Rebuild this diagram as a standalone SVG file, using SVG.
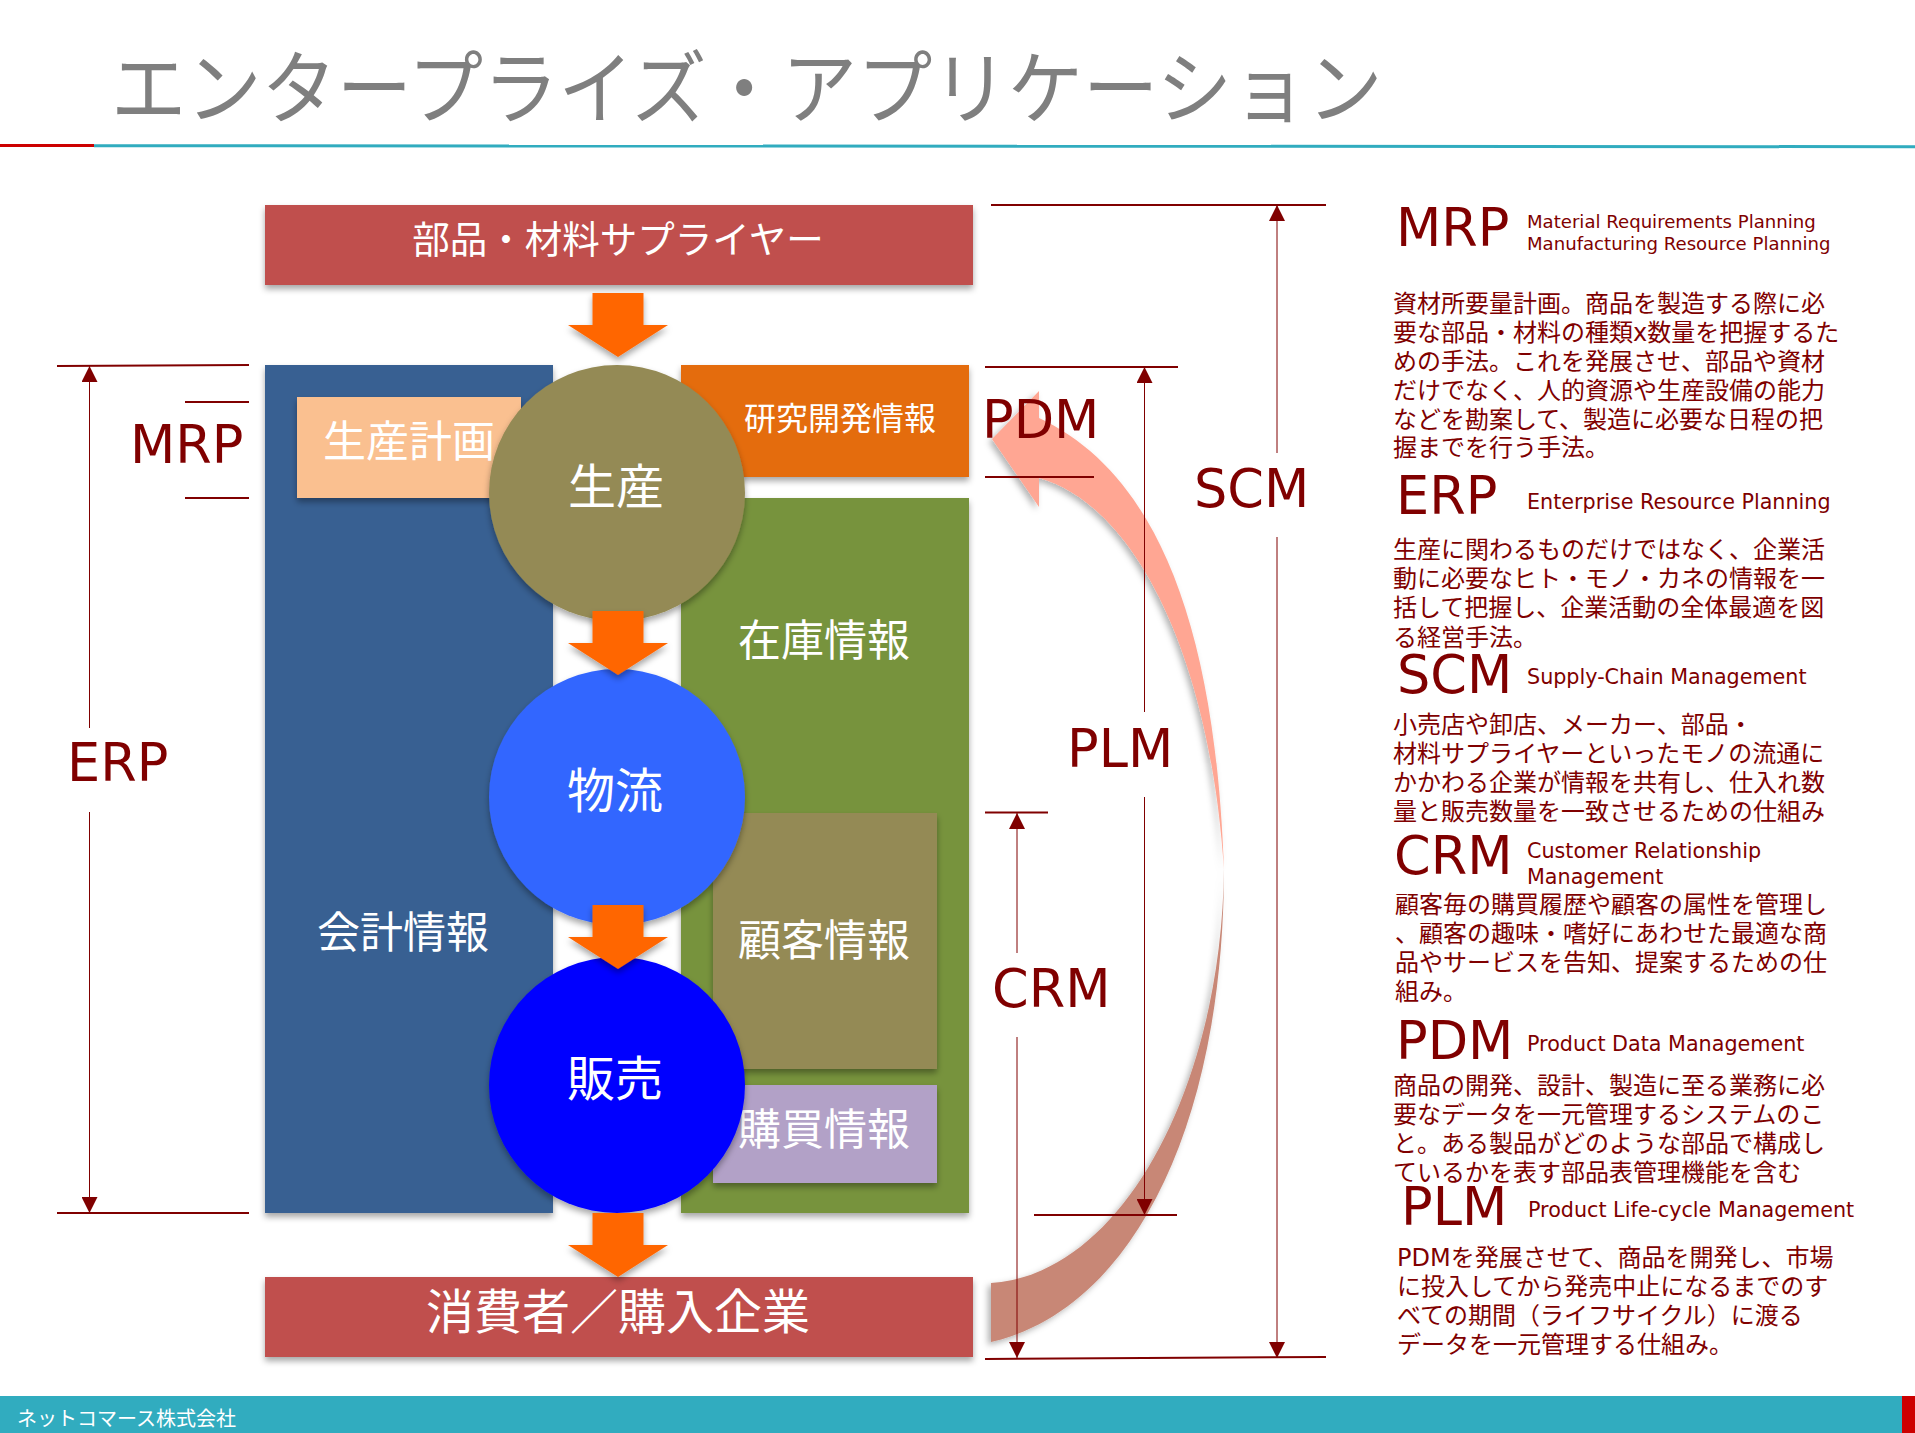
<svg xmlns="http://www.w3.org/2000/svg" width="1915" height="1433" viewBox="0 0 1915 1433">
<defs>
<filter id="sh" x="-10%" y="-10%" width="120%" height="125%"><feDropShadow dx="0" dy="4" stdDeviation="3" flood-color="#000" flood-opacity="0.35"/></filter>
<filter id="shb" x="-10%" y="-10%" width="120%" height="120%"><feDropShadow dx="-3" dy="3" stdDeviation="3" flood-color="#000" flood-opacity="0.3"/></filter>
<marker id="ah" viewBox="0 0 16 16" refX="16" refY="8" markerWidth="16" markerHeight="16" markerUnits="userSpaceOnUse" orient="auto"><path d="M0,0 L16,8 L0,16 Z" fill="#800000"/></marker>
<path id="down" d="M-25.5,0 H25.5 V32 H50 L0,64 L-50,32 H-25.5 Z"/>
</defs>
<style>
text{font-family:"DejaVu Sans","Noto Sans CJK JP",sans-serif}
.w{fill:#fff;text-anchor:middle}
.h{fill:#800000;font-size:52.5px}
.s{fill:#800000;font-size:20.7px}
.s1{fill:#800000;font-size:18.1px}
.b{fill:#800000;font-size:24px}
.dim{stroke:#800000;stroke-width:1;fill:none}
.bar{stroke:#800000;stroke-width:2;fill:none}
.ar{fill:#FF6600}
</style>
<rect width="1915" height="1433" fill="#fff"/>

<g id="header">
<text transform="translate(111,117) scale(1,1.06)" font-size="75.3" fill="#7F7F7F">エンタープライズ・アプリケーション</text>
<path d="M94,145.7 L1915,146.7" stroke="#31ACBF" stroke-width="3" fill="none"/>
<rect x="0" y="144" width="94" height="3" fill="#CC0000"/>
</g>

<g id="footer">
<rect x="0" y="1396" width="1915" height="37" fill="#31ACBF"/>
<rect x="1902" y="1396" width="13" height="37" fill="#CC0000"/>
<text x="17" y="1426" font-size="20" fill="#fff">ネットコマース株式会社</text>
</g>

<g id="supplier"><rect x="265" y="205" width="708" height="80" fill="#C0504D" filter="url(#sh)"/><text class="w" x="618" y="253" font-size="37.5">部品・材料サプライヤー</text></g>
<g id="accounting"><rect x="265" y="365" width="288" height="848" fill="#376092" filter="url(#sh)"/><text class="w" x="403" y="948" font-size="43">会計情報</text></g>
<g id="plan"><rect x="297" y="397" width="224" height="101" fill="#FAC090" filter="url(#sh)"/><text class="w" x="409" y="457" font-size="43">生産計画</text></g>
<g id="rd"><rect x="681" y="365" width="288" height="112" fill="#E46C0A" filter="url(#sh)"/><text class="w" x="840" y="430" font-size="32">研究開発情報</text></g>
<g id="inventory"><rect x="681" y="498" width="288" height="715" fill="#77933C" filter="url(#sh)"/><text class="w" x="824" y="656" font-size="43">在庫情報</text></g>
<g id="customer"><rect x="713" y="813" width="224" height="256" fill="#948A54" filter="url(#sh)"/><text class="w" x="824" y="956" font-size="43">顧客情報</text></g>
<g id="purchase"><rect x="713" y="1085" width="224" height="98" fill="#B2A1C7" filter="url(#sh)"/><text class="w" x="824" y="1145" font-size="43">購買情報</text></g>
<g id="consumer"><rect x="265" y="1277" width="708" height="80" fill="#C0504D" filter="url(#sh)"/><text class="w" x="618" y="1329" font-size="48">消費者／購入企業</text></g>

<g id="production"><circle cx="617" cy="493" r="128" fill="#948A54" filter="url(#sh)"/><text class="w" x="616" y="504" font-size="48">生産</text></g>
<g id="logistics"><circle cx="617" cy="797" r="128" fill="#3366FF" filter="url(#sh)"/><text class="w" x="615" y="808" font-size="48">物流</text></g>
<g id="sales"><circle cx="617" cy="1085" r="128" fill="#0000FF" filter="url(#sh)"/><text class="w" x="615" y="1096" font-size="48">販売</text></g>

<g id="flow-arrows">
<use href="#down" class="ar" transform="translate(618,293)" filter="url(#sh)"/>
<use href="#down" class="ar" transform="translate(618,611)" filter="url(#sh)"/>
<use href="#down" class="ar" transform="translate(618,905)" filter="url(#sh)"/>
<use href="#down" class="ar" transform="translate(618,1213)" filter="url(#sh)"/>
</g>

<g id="curved-arrow" filter="url(#shb)">
<path fill="#C88776" d="M1224,867 C1224,1130 1130,1310 991,1342 L991,1283 C1120,1275 1222,1090 1224,867 Z"/>
<path fill="#FFA693" d="M992,439 L1039,391 L1039,418 C1150,470 1215,610 1224,870 C1210,655 1135,505 1039,478 L1039,507 Z"/>
</g>

<g id="connectors">
<path class="bar" d="M57,366 L249,365 M57,1213 H249 M185,402 H249 M185,498 H249"/>
<path class="bar" d="M991,205 H1326 M985,367 H1178 M985,477 H1094 M1034,1215 H1177 M985,812.5 H1048 M985,1359 L1326,1357"/>
<line class="dim" x1="89.5" y1="728" x2="89.5" y2="366" marker-end="url(#ah)"/>
<line class="dim" x1="89.5" y1="812" x2="89.5" y2="1213" marker-end="url(#ah)"/>
<line class="dim" x1="1277" y1="453" x2="1277" y2="205" marker-end="url(#ah)"/>
<line class="dim" x1="1277" y1="537" x2="1277" y2="1358" marker-end="url(#ah)"/>
<line class="dim" x1="1144.5" y1="712" x2="1144.5" y2="367" marker-end="url(#ah)"/>
<line class="dim" x1="1144.5" y1="797" x2="1144.5" y2="1215" marker-end="url(#ah)"/>
<line class="dim" x1="1017" y1="953" x2="1017" y2="813" marker-end="url(#ah)"/>
<line class="dim" x1="1017" y1="1037" x2="1017" y2="1358" marker-end="url(#ah)"/>
</g>

<g id="dim-labels">
<text class="h" x="130" y="463">MRP</text>
<text class="h" x="67" y="781">ERP</text>
<text class="h" x="982" y="438">PDM</text>
<text class="h" x="1067" y="767">PLM</text>
<text class="h" x="992" y="1007">CRM</text>
<text class="h" x="1194" y="507">SCM</text>
</g>

<g id="glossary-mrp">
<text class="h" x="1396" y="246">MRP</text>
<text class="s1" x="1527" y="228">Material Requirements Planning</text>
<text class="s1" x="1527" y="250">Manufacturing Resource Planning</text>
<text class="b" x="1393" y="312">資材所要量計画。商品を製造する際に必</text>
<text class="b" x="1393" y="341">要な部品・材料の種類x数量を把握するた</text>
<text class="b" x="1393" y="370">めの手法。これを発展させ、部品や資材</text>
<text class="b" x="1393" y="399">だけでなく、人的資源や生産設備の能力</text>
<text class="b" x="1393" y="428">などを勘案して、製造に必要な日程の把</text>
<text class="b" x="1393" y="456">握までを行う手法。</text>
</g>
<g id="glossary-erp">
<text class="h" x="1396" y="514">ERP</text>
<text class="s" x="1527" y="509">Enterprise Resource Planning</text>
<text class="b" x="1393" y="558">生産に関わるものだけではなく、企業活</text>
<text class="b" x="1393" y="587">動に必要なヒト・モノ・カネの情報を一</text>
<text class="b" x="1393" y="616">括して把握し、企業活動の全体最適を図</text>
<text class="b" x="1393" y="646">る経営手法。</text>
</g>
<g id="glossary-scm">
<text class="h" x="1397" y="693">SCM</text>
<text class="s" x="1527" y="684">Supply-Chain Management</text>
<text class="b" x="1393" y="733">小売店や卸店、メーカー、部品・</text>
<text class="b" x="1393" y="762">材料サプライヤーといったモノの流通に</text>
<text class="b" x="1393" y="791">かかわる企業が情報を共有し、仕入れ数</text>
<text class="b" x="1393" y="820">量と販売数量を一致させるための仕組み</text>
</g>
<g id="glossary-crm">
<text class="h" x="1394" y="874">CRM</text>
<text class="s" x="1527" y="858">Customer Relationship</text>
<text class="s" x="1527" y="884">Management</text>
<text class="b" x="1395" y="913">顧客毎の購買履歴や顧客の属性を管理し</text>
<text class="b" x="1395" y="942">、顧客の趣味・嗜好にあわせた最適な商</text>
<text class="b" x="1395" y="971">品やサービスを告知、提案するための仕</text>
<text class="b" x="1395" y="1000">組み。</text>
</g>
<g id="glossary-pdm">
<text class="h" x="1396" y="1059">PDM</text>
<text class="s" x="1527" y="1051">Product Data Management</text>
<text class="b" x="1393" y="1094">商品の開発、設計、製造に至る業務に必</text>
<text class="b" x="1393" y="1123">要なデータを一元管理するシステムのこ</text>
<text class="b" x="1393" y="1152">と。ある製品がどのような部品で構成し</text>
<text class="b" x="1393" y="1181">ているかを表す部品表管理機能を含む</text>
</g>
<g id="glossary-plm">
<text class="h" x="1401" y="1225">PLM</text>
<text class="s" x="1528" y="1217">Product Life-cycle Management</text>
<text class="b" x="1397" y="1266">PDMを発展させて、商品を開発し、市場</text>
<text class="b" x="1397" y="1295">に投入してから発売中止になるまでのす</text>
<text class="b" x="1397" y="1324">べての期間（ライフサイクル）に渡る</text>
<text class="b" x="1397" y="1353">データを一元管理する仕組み。</text>
</g>
</svg>
